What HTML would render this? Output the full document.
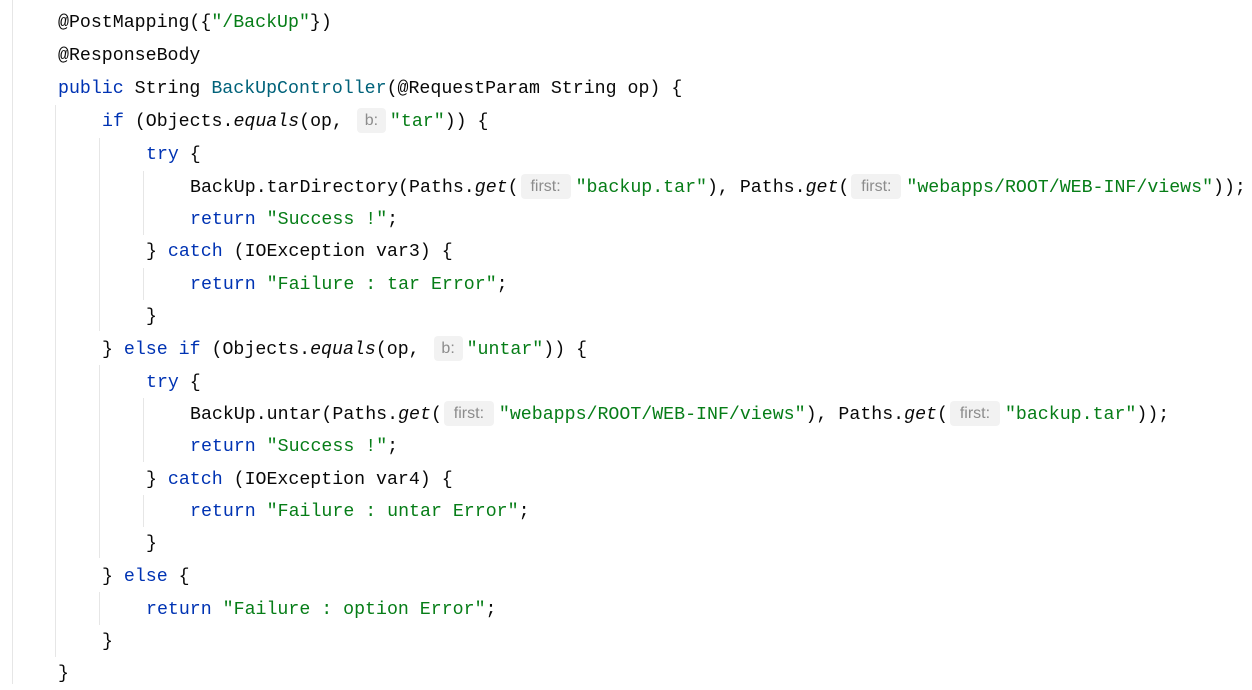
<!DOCTYPE html>
<html><head><meta charset="utf-8"><style>
html,body{margin:0;padding:0;background:#fff;}
body{width:1252px;height:684px;position:relative;overflow:hidden;}
.l{position:absolute;white-space:pre;font-family:"Liberation Mono","DejaVu Sans Mono",monospace;font-size:18.25px;line-height:32px;height:32px;color:#080808;}
.k{color:#0033b3}.s{color:#067d17}.m{color:#00627a}.i{font-style:italic}
.h{display:inline-block;font-family:"Liberation Sans","DejaVu Sans",sans-serif;font-size:16px;color:#8c8c8c;background:#f2f2f2;border-radius:4px;line-height:25px;height:25px;vertical-align:1px;text-align:center;}
.hb{width:29px;margin:0 4px 0 3px}
.hf{width:50px;margin:0 5px 0 2px}
.g{position:absolute;width:1px;background:#e6e6e6}
</style></head><body>
<div class="g" style="left:12px;top:0;height:684px"></div>
<div class="g" style="left:55px;top:105px;height:552px"></div>
<div class="g" style="left:99px;top:138px;height:193px"></div>
<div class="g" style="left:99px;top:365px;height:193px"></div>
<div class="g" style="left:99px;top:592px;height:33px"></div>
<div class="g" style="left:143px;top:171px;height:64px"></div>
<div class="g" style="left:143px;top:268px;height:32px"></div>
<div class="g" style="left:143px;top:398px;height:64px"></div>
<div class="g" style="left:143px;top:495px;height:32px"></div>

<div class="l" style="left:58px;top:7px">@PostMapping({<span class="s">"/BackUp"</span>})</div>
<div class="l" style="left:58px;top:40px">@ResponseBody</div>
<div class="l" style="left:58px;top:73px"><span class="k">public</span> String <span class="m">BackUpController</span>(@RequestParam String op) {</div>
<div class="l" style="left:102px;top:106px"><span class="k">if</span> (Objects.<span class="i">equals</span>(op, <span class="h hb">b:</span><span class="s">"tar"</span>)) {</div>
<div class="l" style="left:146px;top:139px"><span class="k">try</span> {</div>
<div class="l" style="left:190px;top:172px">BackUp.tarDirectory(Paths.<span class="i">get</span>(<span class="h hf">first:</span><span class="s">"backup.tar"</span>), Paths.<span class="i">get</span>(<span class="h hf">first:</span><span class="s">"webapps/ROOT/WEB-INF/views"</span>));</div>
<div class="l" style="left:190px;top:204px"><span class="k">return</span> <span class="s">"Success !"</span>;</div>
<div class="l" style="left:146px;top:236px">} <span class="k">catch</span> (IOException var3) {</div>
<div class="l" style="left:190px;top:269px"><span class="k">return</span> <span class="s">"Failure : tar Error"</span>;</div>
<div class="l" style="left:146px;top:301px">}</div>
<div class="l" style="left:102px;top:334px">} <span class="k">else if</span> (Objects.<span class="i">equals</span>(op, <span class="h hb">b:</span><span class="s">"untar"</span>)) {</div>
<div class="l" style="left:146px;top:367px"><span class="k">try</span> {</div>
<div class="l" style="left:190px;top:399px">BackUp.untar(Paths.<span class="i">get</span>(<span class="h hf">first:</span><span class="s">"webapps/ROOT/WEB-INF/views"</span>), Paths.<span class="i">get</span>(<span class="h hf">first:</span><span class="s">"backup.tar"</span>));</div>
<div class="l" style="left:190px;top:431px"><span class="k">return</span> <span class="s">"Success !"</span>;</div>
<div class="l" style="left:146px;top:464px">} <span class="k">catch</span> (IOException var4) {</div>
<div class="l" style="left:190px;top:496px"><span class="k">return</span> <span class="s">"Failure : untar Error"</span>;</div>
<div class="l" style="left:146px;top:528px">}</div>
<div class="l" style="left:102px;top:561px">} <span class="k">else</span> {</div>
<div class="l" style="left:146px;top:594px"><span class="k">return</span> <span class="s">"Failure : option Error"</span>;</div>
<div class="l" style="left:102px;top:626px">}</div>
<div class="l" style="left:58px;top:658px">}</div>
</body></html>
